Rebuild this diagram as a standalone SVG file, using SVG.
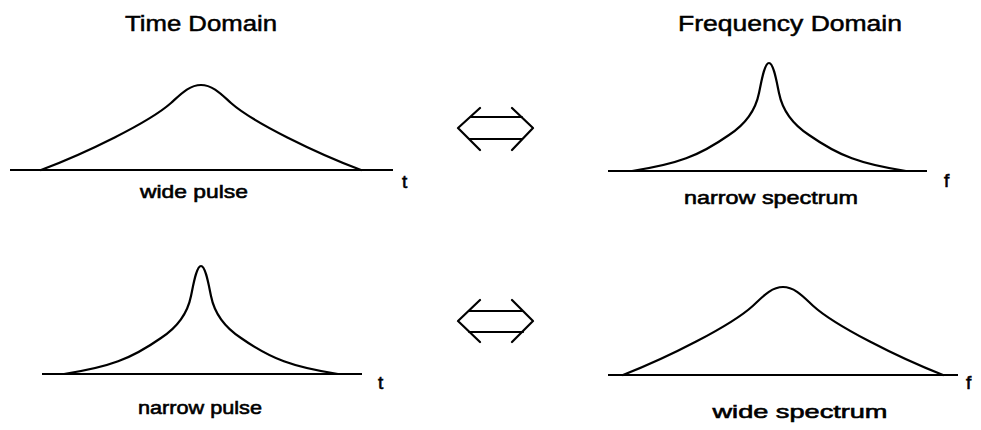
<svg xmlns="http://www.w3.org/2000/svg" xmlns:xlink="http://www.w3.org/1999/xlink" width="981" height="430" viewBox="0 0 981 430">
  <style>
    .ln { fill: none; stroke: #000; stroke-width: 2.2; stroke-linecap: round; stroke-linejoin: round; }
    .ax { fill: none; stroke: #000; stroke-width: 2.2; }
    .title { font-family: "Liberation Sans", Arial, sans-serif; font-size: 22px; fill: #000; stroke: #000; stroke-width: 0.5; text-anchor: middle; }
    .lbl { font-family: "Liberation Sans", Arial, sans-serif; font-size: 19px; fill: #000; stroke: #000; stroke-width: 0.6; text-anchor: middle; }
    .var { font-family: "Liberation Sans", Arial, sans-serif; font-size: 19px; fill: #000; stroke: #000; stroke-width: 0.6; }
  </style>
  <defs>
    <path id="wide" d="M -160 0 C -115 -17 -52 -47.5 -30 -67 C -21 -75 -12 -85 0 -85 C 12 -85 21 -75 30 -67 C 52 -47.5 115 -17 160 0"/>
    <path id="narrow" d="M -137 0 C -92 -6.75 -70 -15 -40 -36 C -27 -44.5 -14 -58 -10 -78 C -7.5 -90 -4.5 -108 0 -108 C 4.5 -108 7.5 -90 10 -78 C 14 -58 27 -44.5 40 -36 C 70 -15 92 -6.75 137 0"/>
  </defs>
  <rect width="981" height="430" fill="#fff"/>

  <g id="title-time">
    <text class="title" x="201" y="31" textLength="152" lengthAdjust="spacingAndGlyphs">Time Domain</text>
  </g>
  <g id="title-frequency">
    <text class="title" x="790" y="31" textLength="224" lengthAdjust="spacingAndGlyphs">Frequency Domain</text>
  </g>

  <g id="wide-pulse">
    <line class="ax" x1="10" y1="170" x2="393" y2="170"/>
    <use href="#wide" xlink:href="#wide" class="ln" transform="translate(201,170)"/>
    <text class="var" x="402" y="188">t</text>
    <text class="lbl" x="194" y="198" textLength="108" lengthAdjust="spacingAndGlyphs">wide pulse</text>
  </g>

  <g id="narrow-spectrum">
    <line class="ax" x1="608" y1="171" x2="927" y2="171"/>
    <use href="#narrow" xlink:href="#narrow" class="ln" transform="translate(769,171)"/>
    <text class="var" x="944" y="187">f</text>
    <text class="lbl" x="771" y="204" textLength="174" lengthAdjust="spacingAndGlyphs">narrow spectrum</text>
  </g>

  <g id="narrow-pulse">
    <line class="ax" x1="42" y1="374" x2="362" y2="374"/>
    <use href="#narrow" xlink:href="#narrow" class="ln" transform="translate(201,374)"/>
    <text class="var" x="378" y="389">t</text>
    <text class="lbl" x="200" y="414" textLength="124" lengthAdjust="spacingAndGlyphs">narrow pulse</text>
  </g>

  <g id="wide-spectrum">
    <line class="ax" x1="608" y1="375" x2="958" y2="375"/>
    <path class="ln" d="M 623 375 C 668 357.4 731 325.8 753 305.7 C 762 297.4 771 287 783 287 C 795 287 804 297.4 813 305.7 C 835 325.8 898 357.4 943 375"/>
    <text class="var" x="966" y="389">f</text>
    <text class="lbl" x="800" y="418" textLength="175" lengthAdjust="spacingAndGlyphs">wide spectrum</text>
  </g>

  <g id="connectors">
    <path class="ln" d="M 480 108 L 458 128 L 480 150 M 512 108 L 533 128 L 512 150 M 470 117 H 522 M 470 139 H 522"/>
    <path class="ln" d="M 480 300 L 458 321 L 480 342 M 512 300 L 533 321 L 512 342 M 469 311 H 523 M 469 332 H 523"/>
  </g>
</svg>
